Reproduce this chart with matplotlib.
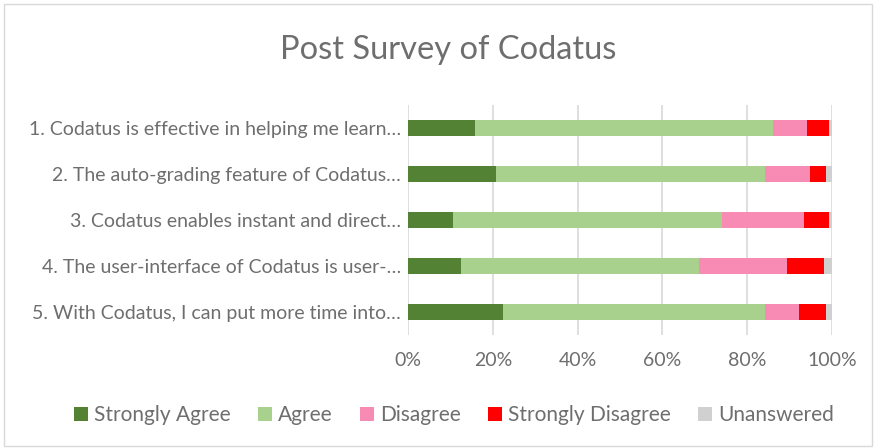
import matplotlib
matplotlib.use("Agg")
import matplotlib.pyplot as plt
from matplotlib.patches import Rectangle
from matplotlib.ticker import PercentFormatter

categories = [
    "1. Codatus is effective in helping me learn…",
    "2. The auto-grading feature of Codatus…",
    "3. Codatus enables instant and direct…",
    "4. The user-interface of Codatus is user-…",
    "5. With Codatus, I can put more time into…",
]
series_names = ["Strongly Agree", "Agree", "Disagree", "Strongly Disagree", "Unanswered"]
strongly_agree = [15.9, 20.7, 10.5, 12.5, 22.5]
agree = [70.1, 63.4, 63.6, 56.2, 61.7]
disagree = [8.0, 10.6, 19.4, 20.7, 7.9]
strongly_disagree = [5.4, 4.0, 5.9, 8.6, 6.6]
unanswered = [0.6, 1.3, 0.6, 2.0, 1.3]
colors = ["#548235", "#a9d18e", "#f78bb4", "#ff0000", "#d0d0d0"]

plt.rcParams['font.family'] = ['Lato', 'DejaVu Sans']
text_color = "#6e6e6e"

fig = plt.figure(figsize=(8.76, 4.48), dpi=100)
ax = fig.add_axes([408/876, 1-335/448, (832-408)/876, (335-105)/448])

values = [strongly_agree, agree, disagree, strongly_disagree, unanswered]
y = list(range(len(categories)))
left = [0.0] * len(categories)
for name, vals, c in zip(series_names, values, colors):
    ax.barh(y, vals, left=left, height=0.33, color=c, label=name, zorder=3)
    left = [l + v for l, v in zip(left, vals)]

ax.set_xlim(0, 100)
ax.set_ylim(len(categories) - 0.5, -0.5)
ax.set_yticks(y)
ax.set_yticklabels(categories, fontsize=14, color=text_color)
ax.set_xticks([0, 20, 40, 60, 80, 100])
ax.xaxis.set_major_formatter(PercentFormatter(decimals=0))
ax.tick_params(axis='x', labelsize=14, labelcolor=text_color, length=0, pad=12)
ax.tick_params(axis='y', length=0, pad=5)
ax.grid(axis='x', color="#d9d9d9", linewidth=1.2, zorder=0)
for s in ax.spines.values():
    s.set_visible(False)

fig.text(448/876, 1-50/448, "Post Survey of Codatus", ha='center', va='center',
         fontsize=23.5, color=text_color)

handles, labels = ax.get_legend_handles_labels()
fig.legend(handles, labels, loc='center', bbox_to_anchor=(454/876, 1-415/448), ncol=5,
           frameon=False, fontsize=15, labelcolor=text_color, handlelength=0.67,
           handleheight=0.67, handletextpad=0.3, columnspacing=1.3)

fig.patches.append(Rectangle((4/876, 2/448), 1-8/876, 1-6/448, transform=fig.transFigure,
                             fill=False, edgecolor="#d9d9d9", linewidth=1))

fig.savefig("out.png", dpi=100, facecolor="white")
